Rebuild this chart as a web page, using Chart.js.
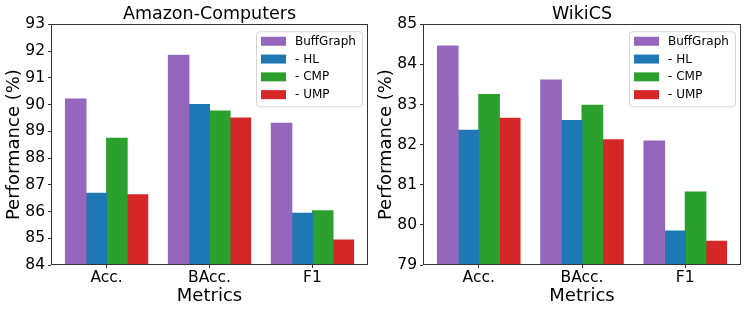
<!DOCTYPE html>
<html>
<head>
<meta charset="utf-8">
<script src="https://cdn.jsdelivr.net/npm/chart.js@4"></script>
<style>
  html, body { margin: 0; padding: 0; background: #fff; }
  .panel { position: absolute; top: 0; height: 313px; }
</style>
</head>
<body>
<div class="panel" style="left:0;width:372px"><canvas id="amazonChart" width="372" height="313"></canvas></div>
<div class="panel" style="left:372px;width:375px"><canvas id="wikiChart" width="375" height="313"></canvas></div>
<script>
const metrics = ["Acc.", "BAcc.", "F1"];
const variants = ["BuffGraph", "- HL", "- CMP", "- UMP"];
const colors = ["#9467bd", "#1f77b4", "#2ca02c", "#d62728"];

// Amazon-Computers
const amazonBuff = [90.21, 91.84, 89.30];
const amazonHL = [86.68, 90.00, 85.93];
const amazonCMP = [88.74, 89.76, 86.03];
const amazonUMP = [86.63, 89.50, 84.93];
const amazonTicks = [84, 85, 86, 87, 88, 89, 90, 91, 92, 93];

// WikiCS
const wikiBuff = [84.46, 83.61, 82.09];
const wikiHL = [82.36, 82.60, 79.85];
const wikiCMP = [83.25, 82.98, 80.82];
const wikiUMP = [82.66, 82.12, 79.59];
const wikiTicks = [79, 80, 81, 82, 83, 84, 85];

const FONT = "'DejaVu Sans', sans-serif";
const AXIS = "#333";

// box round the plot area, like matplotlib spines
const frame = {
  id: "frame",
  afterDraw(chart) {
    const a = chart.chartArea;
    const ctx = chart.ctx;
    ctx.save();
    ctx.strokeStyle = AXIS;
    ctx.lineWidth = 1;
    ctx.strokeRect(Math.round(a.left) + 0.5, Math.round(a.top) + 0.5,
      Math.round(a.right - a.left) - 1, Math.round(a.bottom - a.top) - 1);
    ctx.restore();
  },
};

// legend in the upper right of the plot area
const boxLegend = {
  id: "boxLegend",
  afterDraw(chart) {
    const a = chart.chartArea;
    const ctx = chart.ctx;
    const w = 106, h = 75;
    const x = a.right - 6 - w, y = a.top + 7;
    ctx.save();
    ctx.beginPath();
    ctx.roundRect(x + 0.5, y + 0.5, w, h, 3);
    ctx.fillStyle = "rgba(255,255,255,0.8)";
    ctx.fill();
    ctx.strokeStyle = "#d6d6d6";
    ctx.lineWidth = 1;
    ctx.stroke();
    ctx.font = "12px " + FONT;
    ctx.textBaseline = "middle";
    chart.data.datasets.forEach((ds, i) => {
      const cy = y + 10 + i * 17.8;
      ctx.fillStyle = ds.backgroundColor;
      ctx.fillRect(x + 5, cy - 4.5, 25, 9);
      ctx.fillStyle = "#000";
      ctx.fillText(ds.label, x + 39, cy + 0.5);
    });
    ctx.restore();
  },
};

function makeChart(id, title, series, ticks) {
  const datasets = series.map((vals, i) => ({
    label: variants[i],
    data: vals.map((v, j) => ({ x: j, y: v })),
    backgroundColor: colors[i],
    borderWidth: 0,
    inflateAmount: 0.5,
    categoryPercentage: 0.8,
    barPercentage: 1,
  }));

  return new Chart(document.getElementById(id), {
    type: "bar",
    data: { datasets: datasets },
    plugins: [frame, boxLegend],
    options: {
      responsive: false,
      animation: false,
      layout: { padding: { left: 0, right: id === "amazonChart" ? 4 : 6, top: 0, bottom: 0 } },
      plugins: {
        legend: { display: false },
        tooltip: { enabled: false },
        title: {
          display: true,
          fullSize: false,
          text: title,
          color: "#000",
          font: { family: FONT, size: 17.5, weight: "normal", lineHeight: 1.1 },
          padding: { top: 5, bottom: 0 },
        },
      },
      scales: {
        x: {
          type: "linear",
          offset: false,
          min: -0.54,
          max: metrics.length - 0.46,
          grid: { offset: false, drawOnChartArea: false, drawTicks: true, tickLength: 3, color: AXIS },
          border: { display: false },
          afterBuildTicks: (scale) => {
            scale.ticks = metrics.map((m, i) => ({ value: i }));
          },
          afterFit: (scale) => { scale.height = 48; },
          ticks: {
            callback: (v) => metrics[v],
            color: "#000",
            padding: 1,
            maxRotation: 0,
            font: { family: FONT, size: 15.5 },
          },
          title: {
            display: true,
            text: "Metrics",
            color: "#000",
            font: { family: FONT, size: 18 },
            padding: { top: 0, bottom: 6 },
          },
        },
        y: {
          min: ticks[0],
          max: ticks[ticks.length - 1],
          grid: { drawOnChartArea: false, drawTicks: true, tickLength: 3, color: AXIS },
          border: { display: false },
          afterBuildTicks: (scale) => {
            scale.ticks = ticks.map((t) => ({ value: t }));
          },
          afterFit: (scale) => { scale.width = 51; },
          ticks: {
            color: "#000",
            padding: 3,
            font: { family: FONT, size: 15.5 },
          },
          title: {
            display: true,
            text: "Performance (%)",
            color: "#000",
            font: { family: FONT, size: 18 },
            padding: { top: 4, bottom: 0 },
          },
        },
      },
    },
  });
}

makeChart("amazonChart", "Amazon-Computers",
  [amazonBuff, amazonHL, amazonCMP, amazonUMP], amazonTicks);
makeChart("wikiChart", "WikiCS",
  [wikiBuff, wikiHL, wikiCMP, wikiUMP], wikiTicks);
</script>
</body>
</html>
